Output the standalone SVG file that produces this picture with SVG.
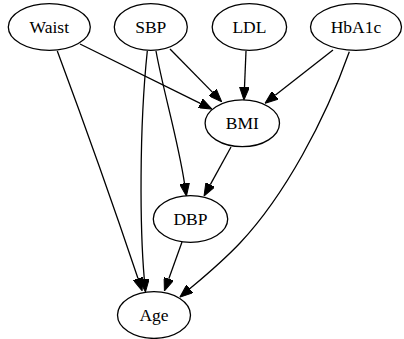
<svg xmlns="http://www.w3.org/2000/svg" width="404" height="339" viewBox="0 0 404 339">
<defs>
<style>
.node ellipse{fill:none;stroke:#000;stroke-width:1.3}
.node text{font-family:"Liberation Serif","Times New Roman",serif;font-size:17.5px;text-anchor:middle;fill:#000}
.edge path{fill:none;stroke:#000;stroke-width:1.3;marker-end:url(#arr)}
</style>
<marker id="arr" markerUnits="userSpaceOnUse" viewBox="0 0 13 10" markerWidth="13" markerHeight="10" refX="0" refY="5" orient="auto">
<path d="M0,0 L13,5 L0,10 Z" fill="#000" stroke="#000" stroke-width="1"/>
</marker>
</defs>
<rect width="404" height="339" fill="#fff"/>
<g id="edges" class="edge">
<path d="M80,44 L200.3,103.3"/>
<path d="M170,49 L212.6,92.4"/>
<path d="M246,51 L244.5,87"/>
<path d="M333,50 L275.2,95.3"/>
<path d="M156,51 C163,90 178,140 184.5,183.3"/>
<path d="M231,147 L210.3,184.6"/>
<path d="M147.3,51 C139,130 140,230 144.3,279"/>
<path d="M57.3,51 C80,112 115,210 138,278.5"/>
<path d="M182,242 L168.8,278.8"/>
<path d="M349.3,51.7 C325,120 285,195 240,243 C222,262 205,276 189.8,288.8"/>
</g>
<g id="Waist" class="node"><ellipse cx="49.3" cy="27" rx="41" ry="23.4"/><text x="49.3" y="32.5">Waist</text></g>
<g id="SBP" class="node"><ellipse cx="150.8" cy="27" rx="36.5" ry="23.4"/><text x="150.8" y="32.5">SBP</text></g>
<g id="LDL" class="node"><ellipse cx="249.4" cy="27" rx="37.2" ry="23.4"/><text x="249.4" y="32.5">LDL</text></g>
<g id="HbA1c" class="node"><ellipse cx="356" cy="27" rx="45.5" ry="23.4"/><text x="356" y="32.5">HbA1c</text></g>
<g id="BMI" class="node"><ellipse cx="242.3" cy="123.3" rx="37.2" ry="23.4"/><text x="242.3" y="128.8">BMI</text></g>
<g id="DBP" class="node"><ellipse cx="190.5" cy="219" rx="37.2" ry="23.4"/><text x="190.5" y="224.5">DBP</text></g>
<g id="Age" class="node"><ellipse cx="154" cy="315" rx="36.5" ry="23.4"/><text x="154" y="320.5">Age</text></g>
</svg>
